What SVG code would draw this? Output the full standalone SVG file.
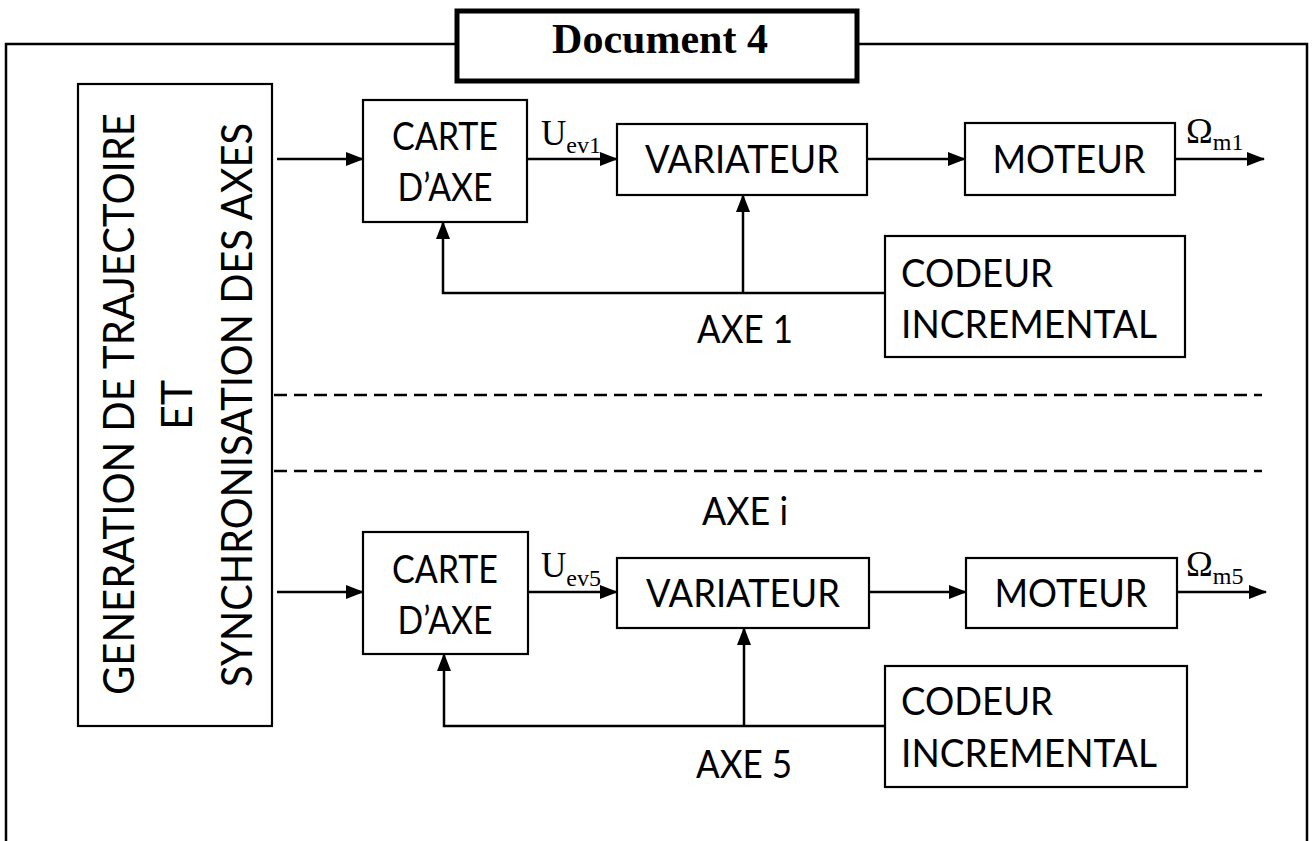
<svg xmlns="http://www.w3.org/2000/svg" width="1312" height="841" viewBox="0 0 1312 841">
<style>
.box{fill:#fff;stroke:#000;stroke-width:2.2}
.t{font-family:Lato,"Open Sans","Liberation Sans",sans-serif;font-size:38px;fill:#000}
.v{font-family:Lato,"Open Sans","Liberation Sans",sans-serif;font-size:43px;fill:#000}
.s{font-family:"Liberation Serif","Times New Roman",serif;fill:#000}
.ln{fill:none;stroke:#000;stroke-width:2.5}
.dash{fill:none;stroke:#000;stroke-width:2.5;stroke-dasharray:13 7}
</style>
<defs>
<marker id="ah" markerUnits="userSpaceOnUse" markerWidth="18" markerHeight="14" refX="17" refY="7" orient="auto">
<path d="M0,0 L18,7 L0,14 Z" fill="#000"/>
</marker>
</defs>
<rect width="1312" height="841" fill="#fff"/>
<g id="frame">
<path class="ln" d="M6,841 V44 H456 M858,44 H1307 V841"/>
</g>
<g id="title">
<rect x="457" y="11" width="400" height="70" fill="#fff" stroke="#000" stroke-width="5"/>
<text class="s" x="660" y="53" font-size="42" font-weight="bold" text-anchor="middle">Document 4</text>
</g>
<g id="generation">
<rect class="box" x="78" y="84" width="194" height="642" stroke-width="2.5"/>
<text class="v" transform="translate(134,404) rotate(-90)" text-anchor="middle" textLength="582" lengthAdjust="spacingAndGlyphs">GENERATION DE TRAJECTOIRE</text>
<text class="v" transform="translate(192,405) rotate(-90)" text-anchor="middle">ET</text>
<text class="v" transform="translate(252,405) rotate(-90)" text-anchor="middle" textLength="564" lengthAdjust="spacingAndGlyphs">SYNCHRONISATION DES AXES</text>
</g>
<g id="separators">
<line class="dash" x1="274" y1="395" x2="1262" y2="395"/>
<line class="dash" x1="274" y1="471" x2="1262" y2="471"/>
</g>
<g id="carte1">
<rect class="box" x="363" y="100" width="164" height="122"/>
<text class="t" x="445" y="150" text-anchor="middle" textLength="106" lengthAdjust="spacingAndGlyphs">CARTE</text>
<text class="t" x="445" y="201" text-anchor="middle" textLength="95" lengthAdjust="spacingAndGlyphs">D’AXE</text>
</g>
<g id="variateur1">
<rect class="box" x="617" y="124" width="250" height="71"/>
<text class="t" x="742" y="173" text-anchor="middle" textLength="194" lengthAdjust="spacingAndGlyphs">VARIATEUR</text>
</g>
<g id="moteur1">
<rect class="box" x="965" y="123" width="210" height="72"/>
<text class="t" x="1069" y="173" text-anchor="middle" textLength="153" lengthAdjust="spacingAndGlyphs">MOTEUR</text>
</g>
<g id="codeur1">
<rect class="box" x="885" y="236" width="300" height="121"/>
<text class="t" x="901" y="287" textLength="152" lengthAdjust="spacingAndGlyphs">CODEUR</text>
<text class="t" x="901" y="338" textLength="256" lengthAdjust="spacingAndGlyphs">INCREMENTAL</text>
</g>
<g id="carte5">
<rect class="box" x="363" y="532" width="165" height="122"/>
<text class="t" x="445" y="583" text-anchor="middle" textLength="106" lengthAdjust="spacingAndGlyphs">CARTE</text>
<text class="t" x="445" y="634" text-anchor="middle" textLength="95" lengthAdjust="spacingAndGlyphs">D’AXE</text>
</g>
<g id="variateur5">
<rect class="box" x="617" y="558" width="252" height="70"/>
<text class="t" x="743" y="607" text-anchor="middle" textLength="194" lengthAdjust="spacingAndGlyphs">VARIATEUR</text>
</g>
<g id="moteur5">
<rect class="box" x="966" y="558" width="211" height="70"/>
<text class="t" x="1071" y="607" text-anchor="middle" textLength="153" lengthAdjust="spacingAndGlyphs">MOTEUR</text>
</g>
<g id="codeur5">
<rect class="box" x="885" y="666" width="302" height="121"/>
<text class="t" x="901" y="715" textLength="152" lengthAdjust="spacingAndGlyphs">CODEUR</text>
<text class="t" x="901" y="767" textLength="256" lengthAdjust="spacingAndGlyphs">INCREMENTAL</text>
</g>
<g id="labels">
<text class="t" x="745" y="343" text-anchor="middle" textLength="96" lengthAdjust="spacingAndGlyphs">AXE 1</text>
<text class="t" x="745" y="525" text-anchor="middle" textLength="86" lengthAdjust="spacingAndGlyphs">AXE i</text>
<text class="t" x="744" y="778" text-anchor="middle" textLength="96" lengthAdjust="spacingAndGlyphs">AXE 5</text>
<text class="s" x="541" y="145" font-size="35">U<tspan font-size="24" dy="8">ev1</tspan></text>
<text class="s" x="541" y="577" font-size="35">U<tspan font-size="24" dy="9">ev5</tspan></text>
<text class="s" x="1186" y="143" font-size="36">Ω<tspan font-size="24" dy="7">m1</tspan></text>
<text class="s" x="1186" y="576" font-size="36">Ω<tspan font-size="24" dy="8">m5</tspan></text>
</g>
<g id="connectors">
<line class="ln" x1="277" y1="159" x2="363" y2="159" marker-end="url(#ah)"/>
<line class="ln" x1="527" y1="159" x2="617" y2="159" marker-end="url(#ah)"/>
<line class="ln" x1="867" y1="159" x2="965" y2="159" marker-end="url(#ah)"/>
<line class="ln" x1="1175" y1="159" x2="1264" y2="159" marker-end="url(#ah)"/>
<polyline class="ln" points="885,293 443,293 443,222" marker-end="url(#ah)"/>
<line class="ln" x1="743" y1="293" x2="743" y2="195" marker-end="url(#ah)"/>
<line class="ln" x1="277" y1="592" x2="363" y2="592" marker-end="url(#ah)"/>
<line class="ln" x1="528" y1="592" x2="617" y2="592" marker-end="url(#ah)"/>
<line class="ln" x1="869" y1="592" x2="966" y2="592" marker-end="url(#ah)"/>
<line class="ln" x1="1177" y1="592" x2="1266" y2="592" marker-end="url(#ah)"/>
<polyline class="ln" points="885,726 444,726 444,654" marker-end="url(#ah)"/>
<line class="ln" x1="744" y1="726" x2="744" y2="628" marker-end="url(#ah)"/>
</g>
</svg>
